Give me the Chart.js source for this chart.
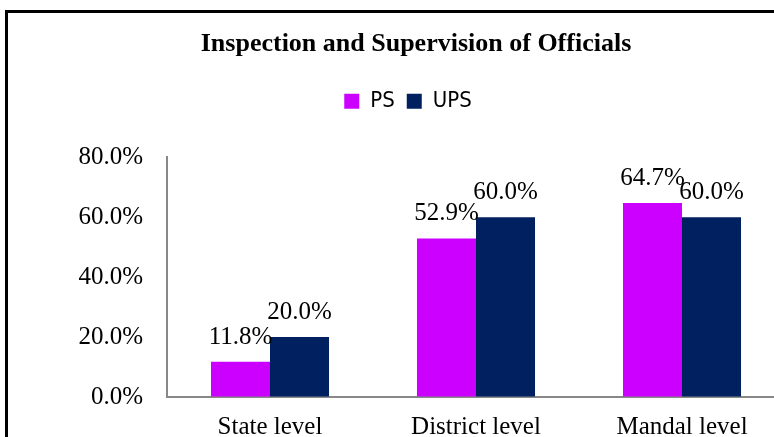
<!DOCTYPE html>
<html>
<head>
<meta charset="utf-8">
<script src="https://cdn.jsdelivr.net/npm/chart.js@4.4.0/dist/chart.umd.min.js"></script>
<style>
  html, body { margin: 0; padding: 0; background: #fff; overflow: hidden; width: 774px; height: 437px; }
  #frame { position: absolute; left: 5px; top: 10px; width: 840px; height: 500px; border: 3px solid #000; }
  #wrap { position: absolute; left: 0; top: 0; width: 816px; height: 456px; }
</style>
</head>
<body>
<div id="frame"><div id="wrap"><canvas id="barChart"></canvas></div></div>
<script>
const categories = ['State level', 'District level', 'Mandal level'];
const psValues = [11.8, 52.9, 64.7];
const upsValues = [20.0, 60.0, 60.0];
const yTicks = [0, 20, 40, 60, 80];

const serif = "'Liberation Serif', 'Times New Roman', serif";

// draws the % value above each bar
const valueLabels = {
  id: 'valueLabels',
  afterDatasetsDraw(chart) {
    const ctx = chart.ctx;
    ctx.save();
    ctx.font = '25px ' + serif;
    ctx.fillStyle = '#000';
    ctx.textAlign = 'center';
    ctx.textBaseline = 'alphabetic';
    chart.data.datasets.forEach((ds, i) => {
      chart.getDatasetMeta(i).data.forEach((bar, j) => {
        ctx.fillText(ds.data[j].toFixed(1) + '%', bar.x, bar.y - 18);
      });
    });
    ctx.restore();
  }
};

// extra room under the legend, title nudged right a bit
const layoutTweaks = {
  id: 'layoutTweaks',
  beforeInit(chart) {
    const fit = chart.legend.fit;
    chart.legend.fit = function () {
      fit.bind(chart.legend)();
      this.height += 35;
    };
  },
  afterLayout(chart) {
    chart.titleBlock.left += 8;
    chart.titleBlock.right += 8;
  }
};

const ctx = document.getElementById('barChart');
new Chart(ctx, {
  type: 'bar',
  data: {
    labels: categories,
    datasets: [
      { label: 'PS', data: psValues, backgroundColor: '#CC00FF' },
      { label: 'UPS', data: upsValues, backgroundColor: '#002060' }
    ]
  },
  options: {
    responsive: true,
    maintainAspectRatio: false,
    animation: false,
    layout: { padding: { left: 23, right: 39, top: 0, bottom: 12 } },
    datasets: { bar: { categoryPercentage: 0.573, barPercentage: 1 } },
    scales: {
      x: {
        grid: { drawOnChartArea: false, drawTicks: false },
        border: { display: true, color: '#888', width: 2 },
        ticks: { color: '#000', padding: 15, font: { family: serif, size: 25 } }
      },
      y: {
        min: 0,
        max: 80,
        afterBuildTicks(axis) { axis.ticks = yTicks.map(v => ({ value: v })); },
        afterFit(axis) { axis.width = 136; },
        grid: { drawOnChartArea: false, drawTicks: false },
        border: { display: true, color: '#888', width: 2 },
        ticks: {
          color: '#000',
          padding: 24,
          font: { family: serif, size: 25 },
          callback: v => v.toFixed(1) + '%'
        }
      }
    },
    plugins: {
      title: {
        display: true,
        text: 'Inspection and Supervision of Officials',
        color: '#000',
        font: { family: serif, size: 26, weight: 'bold' },
        padding: { top: 16, bottom: 18 }
      },
      legend: {
        labels: {
          color: '#000',
          boxWidth: 15,
          boxHeight: 15,
          padding: 12,
          font: { family: "'DejaVu Sans Condensed', 'Liberation Sans', sans-serif", size: 22 }
        }
      },
      tooltip: { enabled: false }
    }
  },
  plugins: [valueLabels, layoutTweaks]
});
</script>
</body>
</html>
